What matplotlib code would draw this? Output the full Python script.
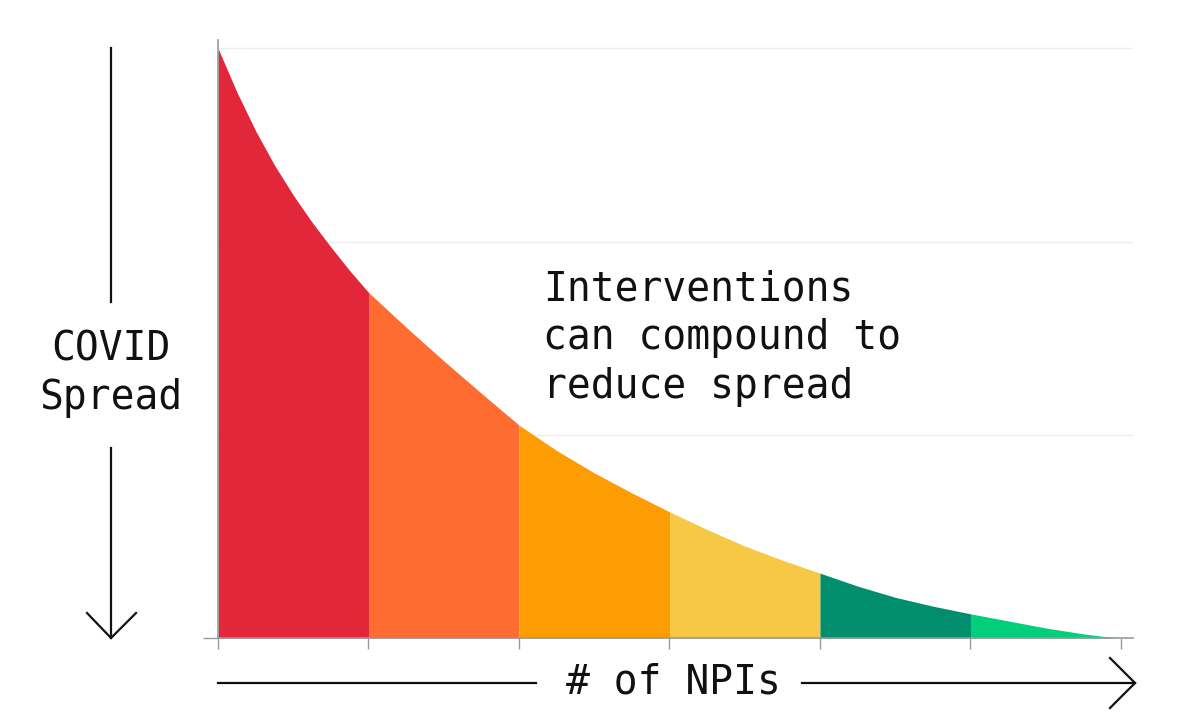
import matplotlib
matplotlib.use("Agg")
import matplotlib.pyplot as plt
import numpy as np

# ---- data ----
npi_x = [0, 0.125, 0.25, 0.375, 0.5, 0.625, 0.75, 0.875, 1.0,
         1.25, 1.5, 1.75, 2.0,
         2.25, 2.5, 2.75, 3.0,
         3.25, 3.5, 3.75, 4.0,
         4.25, 4.5, 4.75, 5.0,
         5.25, 5.5, 5.75, 5.97]
spread_y = [100, 92.6, 86.0, 80.2, 75.1, 70.5, 66.3, 62.3, 58.6,
            52.7, 47.0, 41.5, 36.1,
            31.8, 28.0, 24.6, 21.4,
            18.4, 15.6, 13.2, 11.0,
            8.8, 6.9, 5.4, 4.1,
            2.9, 1.7, 0.7, 0.0]
segment_colors = ["#E2273B", "#FE6C31", "#FE9C03", "#F7C845", "#008E6C", "#02CF7C"]
gridlines = [34.4, 67.1, 100]
x_ticks = [0, 1, 2, 3, 4, 5, 6]
annotation = "Interventions\ncan compound to\nreduce spread"
y_label = "COVID\nSpread"
x_label = "# of NPIs"

FONT = "DejaVu Sans Mono"
FS = 28.5

W, H = 1179, 723
fig = plt.figure(figsize=(W / 100, H / 100), dpi=100)
fig.patch.set_facecolor("white")

ax = fig.add_axes([218 / W, 85 / H, 915 / W, 598 / H])
x = np.array(npi_x)
y = np.array(spread_y)
for i, c in enumerate(segment_colors):
    m = (x >= i) & (x <= i + 1)
    ax.fill_between(x[m], 0, y[m], color=c, linewidth=0, zorder=2)

ax.set_xlim(0, 6.08)
ax.set_ylim(0, 101.4)
for g in gridlines:
    ax.axhline(g, color="#eeeeee", linewidth=1, zorder=1)
ax.set_xticks(x_ticks)
ax.set_xticklabels([])
ax.set_yticks([0])
ax.set_yticklabels([])
ax.tick_params(axis="x", length=8, color="#999999", width=1)
ax.tick_params(axis="y", length=11, color="#999999", width=1)
for s in ["top", "right"]:
    ax.spines[s].set_visible(False)
for s in ["left", "bottom"]:
    ax.spines[s].set_color("#999999")
    ax.spines[s].set_linewidth(1.2)
    ax.spines[s].set_zorder(3)

ax.text((543 - 218) / 915 * 6.08, (638 - 338) / 598 * 101.4, annotation,
        family=FONT, fontsize=FS, ha="left", va="center", linespacing=1.28,
        color="#111111", zorder=4)

# ---- overlay for the axis arrows, in pixel coordinates ----
ov = fig.add_axes([0, 0, 1, 1], facecolor="none")
ov.set_xlim(0, W)
ov.set_ylim(H, 0)
ov.axis("off")
lw = 1.6
k = "#111111"
# vertical arrow
ov.plot([111, 111], [48, 302], color=k, lw=lw)
ov.plot([111, 111], [448, 638], color=k, lw=lw)
ov.plot([87, 111, 136], [613, 638, 613], color=k, lw=lw, solid_joinstyle="miter")
ov.text(111, 374, y_label, family=FONT, fontsize=FS, ha="center", va="center",
        linespacing=1.28, color=k)
# horizontal arrow
ov.plot([218, 536], [683, 683], color=k, lw=lw)
ov.plot([802, 1135], [683, 683], color=k, lw=lw)
ov.plot([1110, 1135, 1110], [658, 683, 708], color=k, lw=lw, solid_joinstyle="miter")
ov.text(673, 683, x_label, family=FONT, fontsize=FS, ha="center", va="center", color=k)

fig.savefig("out.png", dpi=100, facecolor="white")
